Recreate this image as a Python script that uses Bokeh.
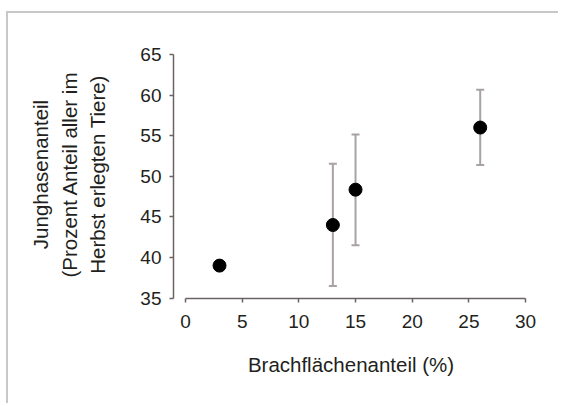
from bokeh.plotting import figure
from bokeh.models import ColumnDataSource, Whisker, TeeHead, Range1d
from bokeh.embed import file_html
from bokeh.resources import INLINE

# data
brache = [3, 13, 15, 26]
junghasen = [39.0, 44.0, 48.35, 56.0]
upper = [39.0, 51.55, 55.15, 60.65]
lower = [39.0, 36.5, 41.5, 51.4]
x_ticks = [0, 5, 10, 15, 20, 25, 30]
y_ticks = [35, 40, 45, 50, 55, 60, 65]
x_title = "Brachflächenanteil (%)"
y_title = "Junghasenanteil\n(Prozent Anteil aller im\nHerbst erlegten Tiere)"

src = ColumnDataSource(dict(x=brache, y=junghasen, upper=upper, lower=lower))

p = figure(width=552, height=392, output_backend="svg", toolbar_location=None,
           x_range=Range1d(-1.06, 30.26), y_range=Range1d(34.95, 65.49),
           min_border_left=165, min_border_right=32, min_border_top=37, min_border_bottom=107)
p.styles = {"border-left": "2px solid #c8c8c8", "border-top": "2px solid #c8c8c8",
            "margin-left": "6px", "margin-top": "11px"}
p.outline_line_color = None
p.grid.visible = False
p.background_fill_color = "white"
p.border_fill_color = "white"

FONT = "Liberation Sans"
AX = "#6b6363"
TXT = "#231f20"

for ax in (p.xaxis[0], p.yaxis[0]):
    ax.axis_line_color = AX
    ax.axis_line_width = 1.5
    ax.major_tick_line_color = AX
    ax.major_tick_line_width = 1.5
    ax.major_tick_out = 4
    ax.major_tick_in = 0
    ax.minor_tick_line_color = None
    ax.major_label_text_font = FONT
    ax.major_label_text_font_size = "19px"
    ax.major_label_text_color = TXT
    ax.axis_label_text_font = FONT
    ax.axis_label_text_font_size = "20.5px"
    ax.axis_label_text_font_style = "normal"
    ax.axis_label_text_color = TXT

p.xaxis.ticker = x_ticks
p.yaxis.ticker = y_ticks
p.xaxis.bounds = (0, 30)
p.yaxis.bounds = (35, 65)
p.xaxis.major_label_standoff = 12
p.yaxis.major_label_standoff = 8
p.xaxis.axis_label = x_title
p.xaxis.axis_label_standoff = 22
p.yaxis.axis_label = y_title
p.yaxis.axis_label_standoff = 28
p.yaxis.axis_label_text_line_height = 1.25

ECOL = "#a8a2a2"
w = Whisker(base="x", upper="upper", lower="lower", source=src,
            line_color=ECOL, line_width=2,
            upper_head=TeeHead(size=8, line_color=ECOL, line_width=2),
            lower_head=TeeHead(size=8, line_color=ECOL, line_width=2))
p.add_layout(w)

p.scatter("x", "y", source=src, size=13, fill_color="black", line_color="black")

open("out.html", "w").write(file_html(p, INLINE))
